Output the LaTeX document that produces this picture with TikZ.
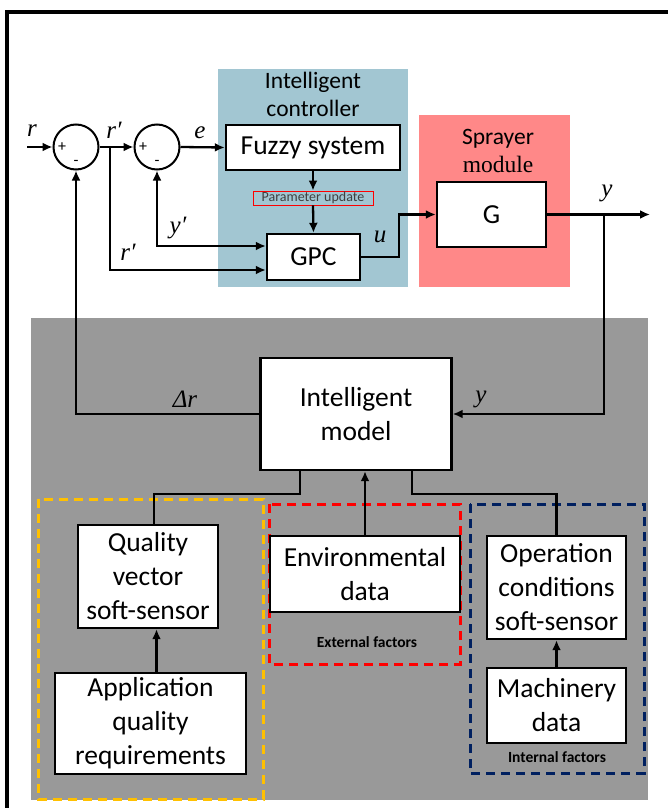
\documentclass[tikz,border=0pt]{standalone}
\usepackage{fontspec}
\setmainfont{Carlito}
\newfontfamily\tnr{Liberation Serif}
\usetikzlibrary{arrows,arrows.meta,positioning}
\definecolor{ctrlblue}{RGB}{162,198,210}
\definecolor{sprayred}{RGB}{255,136,136}
\definecolor{modelgray}{RGB}{153,153,153}
\definecolor{extyellow}{RGB}{255,192,0}
\definecolor{intnavy}{RGB}{0,32,96}
\newcommand{\sigprime}{\char"2032}

\begin{document}
\begin{tikzpicture}[x=1pt,y=-1pt,line width=2.3pt,
    blk/.style={draw,line width=2.4pt,fill=white,align=center,inner sep=0pt,
      font=\fontsize{27.5}{34}\selectfont},
    sum/.style={draw,circle,line width=2pt,minimum size=45pt,inner sep=0pt},
    arr/.style={-{Latex[length=10pt,width=9pt]}},
    sig/.style={font=\tnr\itshape\fontsize{25}{25}\selectfont},
    sgn/.style={font=\fontsize{16}{16}\selectfont,inner sep=0pt},
    grp/.style={dash pattern=on 9pt off 6pt,line width=3pt},
    tag/.style={font=\bfseries\fontsize{15.5}{15.5}\selectfont}]
  \useasboundingbox (0,0) rectangle (668,808);
  % Backgrounds of the three parts
  \fill[ctrlblue] (218,69) rectangle (408,287);
  \fill[sprayred] (419,115) rectangle (570,287);
  \fill[modelgray] (31,318) rectangle (648,800);
  \draw[line width=3.5pt] (7,808) -- (7,12) -- (668,12);
  \draw[grp,extyellow] (38,499) rectangle (263,799);
  \draw[grp,red] (269,504) rectangle (460,664);
  \draw[grp,intnavy] (470,504) rectangle (644,773);
  \node[align=center,font=\fontsize{23.5}{28}\selectfont] (ctitle) at (313,94)
    {Intelligent\\controller};
  \node[align=center,font=\fontsize{23.5}{28}\selectfont] (stitle) at (498,151)
    {Sprayer\\{\tnr module}};

  % Control loop
  \node[sum] (s1) at (76,147) {};
  \node[sum] (s2) at (157,147) {};
  \node[sgn] (p1) at (62,147) {+};
  \node[sgn] (m1) at (76,163) {-};
  \node[sgn] (p2) at (143,147) {+};
  \node[sgn] (m2) at (157,163) {-};
  \node[blk,minimum width=174pt,minimum height=45pt] (fuzzy) at (313,147.5) {Fuzzy system};
  \node[draw=red,line width=0.9pt,minimum width=120pt,minimum height=14pt,inner sep=0pt,
    text=black!75,font=\fontsize{14}{14}\selectfont] (par) at (313,198) {Parameter update};
  \node[blk,minimum width=93pt,minimum height=46pt] (gpc) at (313.5,257) {GPC};
  \node[blk,minimum width=109pt,minimum height=65pt] (G) at (491.5,214.5) {G};
  \coordinate (rin) at (27,147);
  \coordinate (br) at (110,147);
  \coordinate (yout) at (650,214.5);
  \coordinate (by) at (604,214.5);
  \draw[arr] (rin) -- (s1.west);
  \draw[arr] (s1.east) -- (s2.west);
  \draw[arr] (s2.east) -- (fuzzy.west);
  \draw[arr] (br) |- ([yshift=-13pt]gpc.west);
  \draw[{Latex[length=10pt,width=9pt]}-{Latex[length=10pt,width=9pt]}]
    (s2.south) |- ([yshift=11pt]gpc.west);
  \draw[arr] (fuzzy.south) -- (par.north);
  \draw[arr] (par.south) -- (gpc.north);
  \draw[arr] (gpc.east) -- ++(38,0) |- (G.west);
  \draw[arr] (G.east) -- (yout);
  \node[sig] (lr) at (32,131) {r};
  \node[sig] (lr1) at (114,130) {r\sigprime};
  \node[sig] (le) at (200,133) {e};
  \node[sig] (ly1) at (178,228) {y\sigprime};
  \node[sig] (lr2) at (128,252) {r\sigprime};
  \node[sig] (lu) at (380,237) {u};
  \node[sig] (ly) at (607,193) {y};

  % Model part
  \node[blk,minimum width=191pt,minimum height=112pt] (model) at (356,414)
    {Intelligent\\model};
  \node[blk,minimum width=140pt,minimum height=103pt] (qual) at (148,576.5)
    {Quality\\vector\\soft-sensor};
  \node[blk,minimum width=191pt,minimum height=101pt] (appl) at (150.5,723.5)
    {Application\\quality\\requirements};
  \node[blk,minimum width=190pt,minimum height=76pt] (env) at (365,574)
    {Environmental\\data};
  \node[blk,minimum width=139pt,minimum height=103pt] (oper) at (556.5,587.5)
    {Operation\\conditions\\soft-sensor};
  \node[blk,minimum width=139pt,minimum height=75pt] (mach) at (556.5,705.5)
    {Machinery\\data};
  \node[tag] (ext) at (367,642) {External factors};
  \node[tag] (int) at (557,757) {Internal factors};
  \draw[arr] (by) |- (model.east);
  \draw[arr] (model.west) -| (s1.south);
  \draw ([xshift=-56pt]model.south) -- ++(0,23) -| ([xshift=6pt]qual.north);
  \draw ([xshift=56pt]model.south) -- ++(0,23) -| (oper.north);
  \draw[arr] (env.north) -- (env.north |- model.south);
  \draw[arr] ([xshift=6pt]appl.north) -- ([xshift=6pt]appl.north |- qual.south);
  \draw[arr] (mach.north) -- (oper.south);
  \node[sig] (ldr) at (185,399) {Δr};
  \node[sig] (ly2) at (481,399) {y};
\end{tikzpicture}
\end{document}
